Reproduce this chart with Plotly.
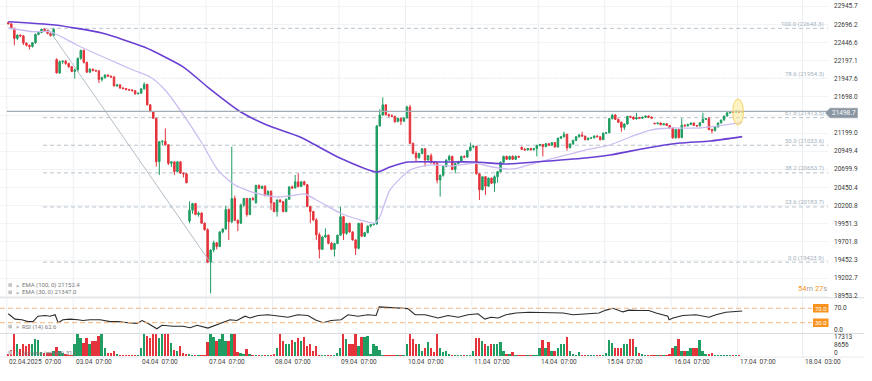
import plotly.graph_objects as go

W, H = 872, 381
FONT = "Roboto, 'Liberation Sans', sans-serif"
GREEN = "#1f9d62"
RED = "#e5333b"

# ---------------- data (hourly candles, 02.04.2025 07:00 -> 17.04.2025 08:00) ----------------
open_ = [
    22722, 22705, 22645, 22505, 22550, 22540, 22440, 22410, 22392, 22446, 22560, 22585, 22630, 22612, 22575, 22545,
    22215, 22030, 22185, 22190, 22160, 22115, 22050, 22070, 22230, 22340, 22175, 22040, 22080, 22062, 22058, 21940, 21965, 22000, 21985, 21975, 21852, 21865,
    21822, 21815, 21800, 21795, 21785, 21742, 21750, 21810, 21872, 21590, 21496, 21404, 20807, 21083, 21090, 21040, 20785, 20805, 20672, 20805, 20650, 20640,
    19990, 20140, 20230, 20080, 20100, 19960, 19870, 19424, 19590, 19690, 19640, 19840, 19880, 20150, 19980, 20300, 20000, 19960, 20210, 20300, 20080, 20300,
    20240, 20480, 20440, 20470, 20340, 20400, 20240, 20120, 20280, 20257, 20120, 20290, 20460, 20445, 20530, 20465, 20530, 20490, 20190, 20120, 20005, 19800,
    19600, 19770, 19795, 19683, 19600, 19680, 19795, 20050, 19820, 19958, 19840, 19730, 19614, 19958, 19780, 19830, 19920, 19940, 19950, 21300, 21450, 21590,
    21455, 21440, 21430, 21360, 21405, 21365, 21410, 21560, 21060, 20922, 20860, 20920, 20985, 20830, 20890, 20800, 20785, 20555, 20620, 20740, 20830, 20880,
    20700, 20780, 20810, 20880, 20870, 20960, 21010, 21020, 20640, 20420, 20600, 20470, 20580, 20510, 20600, 20670, 20800, 20880, 20840, 20880, 20840, 20880,
    21005, 20977, 20968, 20990, 20970, 20990, 21030, 21045, 21015, 21055, 21035, 21070, 21010, 21130, 21150, 21185, 21000, 21050, 21100, 21150, 21175, 21160,
    21110, 21130, 21135, 21160, 21150, 21110, 21200, 21205, 21400, 21450, 21390, 21350, 21280, 21325, 21430, 21420, 21395, 21415, 21405, 21420, 21435, 21420,
    21335, 21330, 21340, 21315, 21330, 21305, 21270, 21135, 21250, 21140, 21310, 21300, 21320, 21340, 21305, 21300, 21345, 21390, 21400, 21250, 21235, 21285,
    21340, 21380, 21435, 21480, 21495, 21490, 21500, 21492,
]
high = [
    22735, 22712, 22650, 22560, 22560, 22548, 22452, 22420, 22450, 22570, 22600, 22640, 22643, 22625, 22590, 22640,
    22230, 22200, 22205, 22210, 22170, 22125, 22090, 22240, 22350, 22350, 22185, 22095, 22090, 22075, 22068, 21975, 22010, 22008, 21992, 21980, 21872, 21868,
    21832, 21822, 21810, 21805, 21792, 21760, 21820, 21900, 21880, 21600, 21505, 21410, 21090, 21100, 21266, 21050, 20812, 20810, 20812, 20815, 20660, 20650,
    20260, 20240, 20240, 20120, 20110, 19970, 19890, 19600, 19720, 19700, 19850, 19890, 20200, 20160, 21013, 20340, 20010, 20230, 20310, 20310, 20310, 20320,
    20490, 20495, 20475, 20480, 20410, 20410, 20250, 20290, 20290, 20265, 20300, 20470, 20480, 20624, 20647, 20540, 20545, 20500, 20200, 20130, 20030, 19830,
    19780, 19890, 19805, 19700, 19690, 19800, 20188, 20060, 19965, 19970, 19850, 19740, 19965, 19970, 19840, 19930, 19945, 19960, 21312, 21530, 21693, 21600,
    21470, 21460, 21440, 21415, 21410, 21420, 21580, 21590, 21070, 20950, 20930, 20995, 20990, 20900, 20920, 20810, 20800, 20630, 20750, 20840, 20900, 20890,
    20790, 20820, 20890, 20895, 20970, 21069, 21030, 21025, 20650, 20600, 20610, 20590, 20590, 20620, 20680, 20810, 20890, 20890, 20890, 20895, 20890, 20890,
    21015, 20995, 20995, 20995, 20995, 21040, 21050, 21050, 21060, 21060, 21075, 21075, 21140, 21160, 21220, 21190, 21060, 21110, 21160, 21190, 21220, 21165,
    21140, 21140, 21170, 21170, 21155, 21210, 21215, 21410, 21460, 21460, 21400, 21360, 21335, 21440, 21440, 21430, 21480, 21425, 21425, 21440, 21445, 21430,
    21345, 21345, 21345, 21335, 21335, 21310, 21280, 21260, 21260, 21404, 21320, 21330, 21345, 21345, 21310, 21350, 21482, 21405, 21425, 21260, 21290, 21345,
    21385, 21440, 21485, 21500, 21505, 21510, 21510, 21505,
]
low = [
    22700, 22630, 22410, 22480, 22520, 22415, 22395, 22352, 22380, 22430, 22548, 22575, 22600, 22560, 22530, 22530,
    22020, 22015, 22150, 22140, 22100, 22040, 21950, 22040, 22210, 22160, 22030, 22030, 22050, 22045, 21890, 21910, 21950, 21975, 21960, 21840, 21835, 21810,
    21800, 21790, 21785, 21775, 21730, 21735, 21740, 21800, 21580, 21490, 21400, 20740, 20624, 21035, 21030, 20760, 20735, 20625, 20665, 20640, 20590, 20510,
    19960, 20090, 20070, 20050, 19950, 19860, 19410, 18994, 19560, 19600, 19630, 19820, 19870, 19730, 19960, 19990, 19850, 19950, 20180, 20050, 20070, 20270,
    20230, 20430, 20430, 20330, 20330, 20140, 20110, 20050, 20240, 20110, 20110, 20280, 20430, 20440, 20455, 20460, 20480, 20180, 19960, 19990, 19730, 19476,
    19590, 19760, 19670, 19590, 19500, 19670, 19785, 19729, 19800, 19830, 19720, 19522, 19600, 19770, 19770, 19820, 19900, 19930, 19940, 21290, 21440, 21440,
    21420, 21420, 21340, 21350, 21312, 21355, 21400, 21050, 20910, 20807, 20850, 20910, 20739, 20820, 20780, 20760, 20510, 20326, 20600, 20730, 20820, 20690,
    20647, 20770, 20800, 20860, 20860, 20950, 20990, 20630, 20280, 20410, 20350, 20460, 20500, 20390, 20520, 20660, 20790, 20830, 20830, 20830, 20830, 20860,
    20970, 20960, 20960, 20960, 20960, 20880, 21020, 20880, 21005, 21030, 21025, 21000, 21000, 21120, 21140, 20960, 20990, 21040, 21090, 21140, 21150, 21100,
    21100, 21120, 21130, 21145, 21100, 21105, 21190, 21200, 21390, 21380, 21340, 21220, 21245, 21320, 21410, 21385, 21390, 21400, 21400, 21410, 21410, 21395,
    21325, 21325, 21310, 21310, 21300, 21260, 21125, 21125, 21125, 21130, 21290, 21295, 21310, 21300, 21290, 21295, 21340, 21380, 21240, 21195, 21225, 21280,
    21335, 21375, 21430, 21470, 21480, 21485, 21480, 21485,
]
close = [
    22705, 22645, 22505, 22550, 22540, 22440, 22410, 22392, 22446, 22560, 22585, 22630, 22612, 22575, 22545, 22632,
    22030, 22185, 22190, 22160, 22115, 22050, 22070, 22230, 22340, 22175, 22040, 22080, 22062, 22058, 21940, 21965, 22000, 21985, 21975, 21852, 21865, 21822,
    21815, 21800, 21795, 21785, 21742, 21750, 21810, 21872, 21590, 21496, 21404, 20807, 21083, 21090, 21040, 20785, 20805, 20672, 20805, 20650, 20640, 20518,
    20140, 20230, 20080, 20100, 19960, 19870, 19424, 19590, 19690, 19640, 19840, 19880, 20150, 19980, 20300, 20000, 19960, 20210, 20300, 20080, 20300, 20290,
    20480, 20440, 20470, 20340, 20400, 20240, 20120, 20280, 20257, 20120, 20290, 20460, 20445, 20530, 20465, 20530, 20490, 20190, 20120, 20005, 19800, 19600,
    19770, 19795, 19683, 19600, 19680, 19795, 20050, 19820, 19958, 19840, 19730, 19614, 19958, 19780, 19830, 19920, 19940, 19950, 21300, 21450, 21590, 21455,
    21440, 21430, 21360, 21405, 21365, 21410, 21560, 21060, 20922, 20860, 20920, 20985, 20830, 20890, 20800, 20785, 20555, 20620, 20740, 20830, 20880, 20700,
    20780, 20810, 20880, 20870, 20960, 21010, 21020, 20640, 20420, 20600, 20470, 20580, 20510, 20600, 20670, 20800, 20880, 20840, 20880, 20840, 20880, 20870,
    20977, 20968, 20990, 20970, 20990, 21030, 21045, 21015, 21055, 21035, 21070, 21010, 21130, 21150, 21185, 21000, 21050, 21100, 21150, 21175, 21160, 21110,
    21130, 21135, 21160, 21150, 21110, 21200, 21205, 21400, 21450, 21390, 21350, 21280, 21325, 21430, 21420, 21395, 21415, 21405, 21420, 21435, 21420, 21405,
    21330, 21340, 21315, 21330, 21305, 21270, 21135, 21250, 21140, 21310, 21300, 21320, 21340, 21305, 21300, 21345, 21390, 21400, 21250, 21235, 21285, 21340,
    21380, 21435, 21480, 21495, 21490, 21500, 21492, 21498.7,
]
volume = [
    2000, 6000, 19600, 10600, 6400, 10600, 9200, 10600, 10600, 15700, 14300, 4000, 3000, 3000, 3000, 5000,
    8000, 5000, 3000, 2000, 1500, 1500, 10600, 19600, 16200, 12000, 16200, 10600, 13400, 13400, 18200, 19600, 7800, 3000, 3000, 5000, 2200, 1500,
    800, 600, 700, 900, 1000, 1200, 7800, 19600, 18200, 16200, 19600, 19600, 16200, 19600, 19600, 19600, 12000, 5800, 5000, 9200, 3000, 2200,
    2500, 1500, 1000, 800, 1000, 1500, 12600, 19600, 17600, 13400, 15200, 19600, 13400, 13400, 19600, 19600, 4000, 3000, 2500, 6400, 2000, 1500,
    600, 500, 600, 500, 700, 600, 2200, 7800, 19600, 13400, 10600, 10600, 14300, 12600, 16200, 13400, 17600, 9200, 10600, 5000, 9200, 800,
    600, 500, 600, 700, 800, 3000, 7800, 19600, 15200, 10600, 10600, 19600, 9200, 17600, 17600, 18200, 2200, 11300, 9200, 5800, 1000, 800,
    600, 500, 500, 600, 700, 800, 10600, 19600, 15200, 10600, 10600, 5000, 7800, 12600, 7800, 4000, 19600, 7800, 3600, 5000, 2200, 1500,
    600, 700, 800, 600, 900, 900, 5000, 16200, 16200, 13400, 10600, 9200, 11300, 10600, 11300, 12600, 5000, 2200, 2200, 3600, 1000, 800,
    800, 500, 600, 500, 700, 1500, 7800, 14300, 7800, 12600, 5000, 5000, 7800, 10600, 11300, 17600, 5000, 2200, 1500, 3600, 1500, 1000,
    600, 500, 600, 500, 700, 800, 3000, 14300, 12000, 7800, 7800, 7800, 10600, 10600, 15200, 15700, 8400, 3000, 2200, 1500, 800, 600,
    500, 600, 500, 600, 700, 2200, 7800, 9200, 15200, 5000, 5000, 5000, 7200, 7800, 7200, 14300, 5000, 2200, 2200, 3000, 1500, 1000,
    600, 500, 800, 600, 500, 1500, 1500, 313,
]
candle_idx = list(range(len(close)))

# indicator values (candle index, value)
ema100_x = [0, 15.5, 31, 45, 58, 66, 77, 85.6, 96.6, 109.8, 122, 126.4, 132.3, 143, 154.5, 164.5, 174.4, 191, 199.2, 211.5, 222.4, 232.4, 243]
ema100_y = [22735, 22689, 22578, 22385, 22110, 21835, 21491, 21312, 21147, 20858, 20665, 20734, 20803, 20803, 20803, 20775, 20803, 20858, 20899, 20996, 21064, 21092, 21152.4]
ema30_x = [0, 8.2, 13.8, 22.7, 33.7, 41.3, 47, 51.9, 58.5, 64.1, 69.4, 75, 81.7, 89.3, 95, 98.2, 103.2, 109.8, 115.5, 121.4, 123, 126.4, 133, 139.6, 147, 154.5, 160.2, 165.5, 168.8, 174.4, 181, 191, 199.2, 205.9, 212.5, 219.1, 229, 243]
ema30_y = [22648, 22597, 22597, 22414, 22207, 22070, 21973, 21794, 21422, 21064, 20692, 20486, 20376, 20321, 20348, 20362, 20252, 20101, 20018, 19963, 20046, 20418, 20693, 20762, 20748, 20789, 20734, 20706, 20720, 20789, 20858, 20968, 21037, 21147, 21243, 21271, 21271, 21347.0]
rsi_x = [0, 2.2, 4.5, 6.5, 8.2, 9.8, 12.2, 13.8, 15.5, 16.5, 18.1, 20.4, 23.1, 24.7, 27, 30.4, 33.7, 36.3, 39.6, 42.6,
         44.3, 46.3, 49.2, 50.9, 54.5, 57.8, 60.2, 62.5, 66.1, 67.8, 70.1, 73.4, 75.7, 78.4, 80, 82.7, 86, 90.3, 92.6, 95.9,
         99.2, 101.6, 104.2, 106.9, 110.2, 112.5, 115.8, 119.1, 121.8, 122.8, 125.7, 129, 132.3, 134.7, 138, 142.3, 145.6, 149, 152.2, 155.5,
         157.8, 159.8, 162.2, 164.8, 168.1, 172.4, 178, 181.4, 183.7, 187, 191.3, 195.6, 197.9, 200.2, 203.5, 205.5, 208.8, 212.1, 214.5, 218.4,
         218.8, 220.1, 223.4, 227.7, 232, 234.3, 237.6, 243]
rsi_y = [55, 40, 38, 33, 33, 48, 50, 48, 52, 30, 38, 40, 38, 36, 38, 38, 33, 33, 30, 28,
         36, 28, 13, 23, 20, 20, 16, 23, 15, 20, 28, 38, 36, 48, 43, 50, 52, 48, 45, 52,
         50, 38, 30, 36, 38, 52, 48, 52, 50, 74, 72, 70, 69, 52, 52, 43, 50, 45, 52, 55,
         40, 45, 43, 52, 57, 59, 59, 59, 57, 52, 55, 57, 65, 70, 60, 65, 64, 64, 57, 48,
         38, 43, 50, 52, 45, 52, 59, 62.6]

price_ticks = [18953.2, 19202.7, 19452.3, 19701.8, 19951.3, 20200.8, 20450.4, 20699.9, 20949.4,
               21199.0, 21448.5, 21698.0, 21947.6, 22197.1, 22446.6, 22696.2, 22945.7]
fib_ratios = [100.0, 78.6, 61.8, 50.0, 38.2, 23.6, 0.0]
fib_high, fib_low = 22643.3, 19423.9
fib_anchor_idx = [13.1, 66.8]
fib_start_idx = 11.5
day_ticks = [-0.5, 21.5, 43.5, 65.5, 87.5, 109.5, 131.5, 153.5, 175.5, 197.5, 219.5, 241.5, 263.0]
day_labels = ["02.04.2025&nbsp;&nbsp;07:00", "03.04&nbsp;&nbsp;07:00", "04.04&nbsp;&nbsp;07:00", "07.04&nbsp;&nbsp;07:00",
              "08.04&nbsp;&nbsp;07:00", "09.04&nbsp;&nbsp;07:00", "10.04&nbsp;&nbsp;07:00", "11.04&nbsp;&nbsp;07:00",
              "14.04&nbsp;&nbsp;07:00", "15.04&nbsp;&nbsp;07:00", "16.04&nbsp;&nbsp;07:00", "17.04&nbsp;&nbsp;07:00",
              "18.04&nbsp;&nbsp;03:00"]
rsi_levels = [70, 30]
vol_ticks = [17313, 8656, 0]
last_price = 21498.7
ema100_last, ema30_last, rsi_last, vol_last = 21152.4, 21347.0, 62.6, 313
highlight_idx = [239.9, 243.4]
highlight_price = [21312, 21670]
countdown = ("54", "27")

assert len(open_) == len(high) == len(low) == len(close) == len(volume) == 244

# ---------------- layout helpers (pixel -> paper) ----------------
PLOT_R = 828
X0, DX = 8.3, 3.02
x_lo, x_hi = (0 - X0) / DX, (PLOT_R - X0) / DX


def px(x):
    return x / W


def py(y):
    return 1 - y / H


fig = go.Figure()

# fib diagonal
fig.add_trace(go.Scatter(x=fib_anchor_idx, y=[fib_high, fib_low], mode="lines",
                         line=dict(color="#b3bec7", width=1), hoverinfo="skip", showlegend=False))
# EMA30 (under candles)
fig.add_trace(go.Scatter(x=ema30_x, y=ema30_y, mode="lines", line=dict(color="#cbbdf2", width=1.3, shape="spline", smoothing=0.6),
                         hoverinfo="skip", showlegend=False))
# candles
fig.add_trace(go.Candlestick(x=candle_idx, open=open_, high=high, low=low, close=close,
                             increasing=dict(line=dict(color=GREEN, width=1), fillcolor=GREEN),
                             decreasing=dict(line=dict(color=RED, width=1), fillcolor=RED),
                             whiskerwidth=0, hoverinfo="skip", showlegend=False))
# EMA100
fig.add_trace(go.Scatter(x=ema100_x, y=ema100_y, mode="lines", line=dict(color="#6a40d4", width=1.6, shape="spline", smoothing=0.6),
                         hoverinfo="skip", showlegend=False))
# RSI
fig.add_trace(go.Scatter(x=rsi_x, y=rsi_y, mode="lines", line=dict(color="#2b2b2b", width=1.1),
                         yaxis="y2", hoverinfo="skip", showlegend=False))
# volume
vol_colors = [GREEN if c >= o else RED for o, c in zip(open_, close)]
fig.add_trace(go.Bar(x=candle_idx, y=volume, marker=dict(color=vol_colors, line=dict(width=0)), width=0.62,
                     yaxis="y3", hoverinfo="skip", showlegend=False))

shapes = []
annotations = []

# vertical day gridlines
for t in day_ticks:
    shapes.append(dict(type="line", xref="x", yref="paper", x0=t, x1=t, y0=py(357), y1=1,
                       line=dict(color="#eceff2", width=1), layer="below"))

# panel separators
for yy, col in [(297.8, "#d9dde1"), (333.5, "#d9dde1"), (357.0, "#e8eaed")]:
    shapes.append(dict(type="line", xref="paper", yref="paper", x0=0, x1=px(864), y0=py(yy), y1=py(yy),
                       line=dict(color=col, width=1)))

# fib levels
fib_levels = [fib_low + r / 100 * (fib_high - fib_low) for r in fib_ratios]
for r, lv in zip(fib_ratios, fib_levels):
    shapes.append(dict(type="line", xref="x", yref="y", x0=fib_start_idx, x1=x_hi, y0=lv, y1=lv,
                       line=dict(color="#b7c3cd", width=1, dash="4px,3px"), layer="below"))
    annotations.append(dict(x=px(826), xref="paper", y=lv, yref="y", yshift=4.5, xanchor="right", yanchor="middle",
                            text=f"{r:.1f} ({lv:.1f})", showarrow=False,
                            font=dict(family=FONT, size=6, color="#9fb0be")))

# current price line
shapes.append(dict(type="line", xref="x", yref="y", x0=-0.5, x1=x_hi, y0=last_price, y1=last_price,
                   line=dict(color="#a3acb4", width=1.2)))

# highlight ellipse
shapes.append(dict(type="circle", xref="x", yref="y", x0=highlight_idx[0], x1=highlight_idx[1],
                   y0=highlight_price[0], y1=highlight_price[1],
                   fillcolor="rgba(255,232,130,0.45)", line=dict(color="rgba(244,206,90,0.9)", width=1)))

# RSI levels
for lv in rsi_levels:
    shapes.append(dict(type="line", xref="paper", yref="y2", x0=0, x1=px(812), y0=lv, y1=lv,
                       line=dict(color="#f7b57c", width=1, dash="5px,3px")))
    shapes.append(dict(type="rect", xref="paper", yref="y2", x0=px(813), x1=px(828.5), y0=lv - 12, y1=lv + 12,
                       fillcolor="#f7931e", line=dict(width=0)))
    annotations.append(dict(x=px(820.8), xref="paper", y=lv, yref="y2", xanchor="center", yanchor="middle",
                            text=f"{lv:.1f}", showarrow=False,
                            font=dict(family=FONT, size=6, color="white")))

# price axis labels
for v in price_ticks:
    if abs(v - last_price) < 100:
        continue
    annotations.append(dict(x=px(831.5), xref="paper", y=v, yref="y", xanchor="left", yanchor="middle",
                            text=f"{v:.1f}", showarrow=False, font=dict(family=FONT, size=6.5, color="#3a3a3a")))

# current price box (arrow tag)
yc = 113.0
pts = [(825.5, yc), (830, yc - 4.8), (857.5, yc - 4.8), (857.5, yc + 4.8), (830, yc + 4.8)]
path = "M" + "L".join(f"{px(a):.5f},{py(b):.5f}" for a, b in pts) + "Z"
shapes.append(dict(type="path", xref="paper", yref="paper", path=path, fillcolor="#8a96a2",
                   line=dict(color="#8a96a2", width=0.5)))
annotations.append(dict(x=px(843.8), xref="paper", y=py(yc), yref="paper", xanchor="center", yanchor="middle",
                        text=f"{last_price:.1f}", showarrow=False,
                        font=dict(family=FONT, size=6.5, color="white")))

# RSI / volume axis labels
annotations.append(dict(x=px(831.5), xref="paper", y=70, yref="y2", xanchor="left", yanchor="middle", text="70.0",
                        showarrow=False, font=dict(family=FONT, size=6.5, color="#3a3a3a")))
annotations.append(dict(x=px(831.5), xref="paper", y=py(330), yref="paper", xanchor="left", yanchor="middle", text="0.0",
                        showarrow=False, font=dict(family=FONT, size=6.5, color="#3a3a3a")))
for v, yy in zip(vol_ticks, [336.8, 345.2, 353.3]):
    annotations.append(dict(x=px(831.5), xref="paper", y=py(yy), yref="paper", xanchor="left", yanchor="middle",
                            text=str(v), showarrow=False, font=dict(family=FONT, size=6.5, color="#3a3a3a")))

# x-axis labels
for t, lab in zip(day_ticks, day_labels):
    annotations.append(dict(x=t, xref="x", xshift=0.5, y=py(361.5), yref="paper", xanchor="left", yanchor="middle",
                            text=lab, showarrow=False, font=dict(family=FONT, size=6.5, color="#444")))

# legend rows
legend_rows = [(285.0, f"EMA (100, 0) {ema100_last:.1f}"), (292.3, f"EMA (30, 0) {ema30_last:.1f}"),
               (326.5, f"RSI (14) {rsi_last:.1f}"), (352.7, f"Volume (mixed) {vol_last}")]
for yy, txt in legend_rows:
    shapes.append(dict(type="rect", xref="paper", yref="paper", x0=px(8.3), x1=px(12), y0=py(yy + 1.8), y1=py(yy - 1.8),
                       fillcolor="#c4c4c4", line=dict(width=0)))
    annotations.append(dict(x=px(13.8), xref="paper", y=py(yy), yref="paper", xanchor="left", yanchor="middle",
                            text="×", showarrow=False, font=dict(family=FONT, size=6, color="#9a9a9a")))
    annotations.append(dict(x=px(19.5), xref="paper", y=py(yy), yref="paper", xanchor="left", yanchor="middle",
                            text=txt, showarrow=False, font=dict(family=FONT, size=6, color="#7a7a7a")))

# countdown
annotations.append(dict(x=px(829), xref="paper", y=py(288.7), yref="paper", xanchor="right", yanchor="middle",
                        text=(f"<span style='color:#f7931e'>{countdown[0]}</span><span style='color:#a0a0a0'>m </span>"
                              f"<span style='color:#f7931e'>{countdown[1]}</span><span style='color:#a0a0a0'>s</span>"),
                        showarrow=False, font=dict(family=FONT, size=7.5)))

fig.update_layout(
    width=W, height=H, margin=dict(l=0, r=0, t=0, b=0),
    paper_bgcolor="white", plot_bgcolor="white", showlegend=False, hovermode=False,
    xaxis=dict(domain=[0, px(PLOT_R)], range=[x_lo, x_hi], showgrid=False, zeroline=False, showticklabels=False,
               showline=False, fixedrange=True, rangeslider=dict(visible=False)),
    yaxis=dict(domain=[py(297.5), 1], range=[18937.0, 23033.6], tickvals=price_ticks, showticklabels=False,
               showgrid=True, gridcolor="#f1f3f5", gridwidth=1, zeroline=False, anchor="x", fixedrange=True),
    yaxis2=dict(domain=[py(333.5), py(297.5)], range=[0, 100], showgrid=False, showticklabels=False,
                zeroline=False, anchor="x", fixedrange=True),
    yaxis3=dict(domain=[py(356), py(333.5)], range=[0, 19800], showgrid=False, showticklabels=False,
                zeroline=False, anchor="x", fixedrange=True),
    shapes=shapes, annotations=annotations, bargap=0,
)

fig.write_html("out.html", config={"displayModeBar": False},
               post_script="document.body.style.margin='0';document.body.style.padding='0';document.body.style.overflow='hidden';")
